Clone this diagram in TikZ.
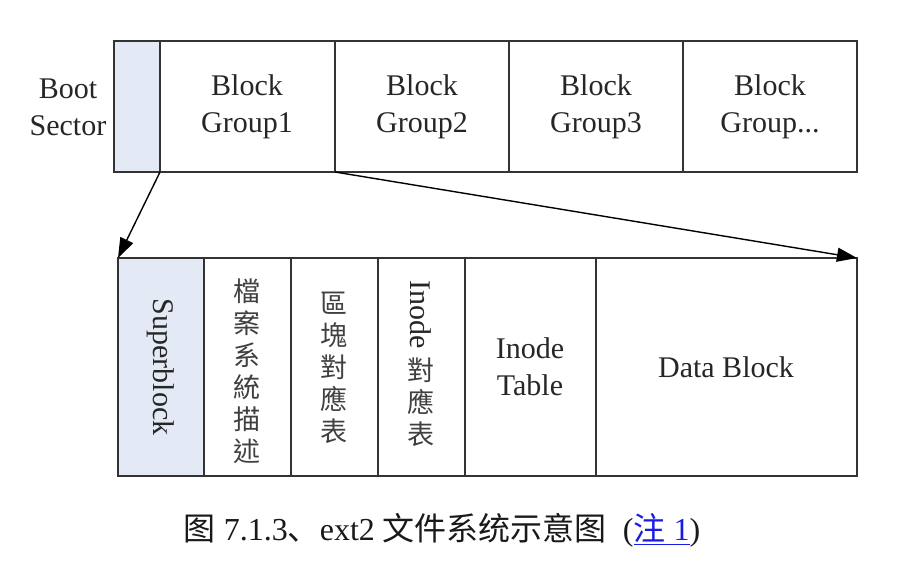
\documentclass[tikz,border=0pt]{standalone}
\usepackage{fontspec}
\setmainfont{Liberation Serif}
\newfontfamily\cjktc{Noto Sans CJK TC}
\newfontfamily\cjksc{Noto Sans CJK SC}
\usetikzlibrary{arrows.meta}
\definecolor{lightblue}{HTML}{E3EAF5}
\definecolor{linkblue}{HTML}{1A1AE6}
\begin{document}
\begin{tikzpicture}[x=1pt,y=-1pt,
  cell/.style={draw=black!80,line width=1.6pt},
  lbl/.style={font=\fontsize{30}{37}\selectfont,align=center,text=black!85,inner sep=0pt},
  vcjk/.style={font=\fontsize{27}{32}\selectfont\cjktc,align=center,text=black!75,inner sep=0pt},
  arr/.style={line width=1.4pt,-{Triangle[length=20pt,width=14pt]}}]
\useasboundingbox (0,0) rectangle (922,588);
% top row
\node[lbl,anchor=center] (boot) at (68,107) {Boot\\Sector};
\draw[cell,fill=lightblue] (114,41) rectangle (160,172);
\coordinate (bsA) at (160,172);
\draw[cell] (160,41) rectangle (335,172);
\draw[cell] (335,41) rectangle (509,172);
\draw[cell] (509,41) rectangle (683,172);
\draw[cell] (683,41) rectangle (857,172);
\coordinate (bg1R) at (335,172);
\node[lbl] (g1) at (247,107) {Block\\Group1};
\node[lbl] (g2) at (422,107) {Block\\Group2};
\node[lbl] (g3) at (596,107) {Block\\Group3};
\node[lbl] (g4) at (770,107) {Block\\Group...};
% bottom row
\draw[cell,fill=lightblue] (118,258) rectangle (204,476);
\draw[cell] (204,258) rectangle (291,476);
\draw[cell] (291,258) rectangle (378,476);
\draw[cell] (378,258) rectangle (465,476);
\draw[cell] (465,258) rectangle (596,476);
\draw[cell] (596,258) rectangle (857,476);
\coordinate (sbTL) at (118,258);
\coordinate (dbTR) at (857,258);
\node[lbl,rotate=-90] (sb) at (161,367) {Superblock};
\node[vcjk] (fsd) at (247,371) {檔\\案\\系\\統\\描\\述};
\node[vcjk] (bmap) at (334,368) {區\\塊\\對\\應\\表};
\node[lbl,rotate=-90] (inode) at (421,315) {Inode};
\node[vcjk] (imap) at (421,402) {對\\應\\表};
\node[lbl] (itab) at (530,367) {Inode\\Table};
\node[lbl] (data) at (726,367) {Data Block};
% arrows
\draw[arr] (bsA) -- (sbTL);
\draw[arr] (bg1R) -- (dbTR);
% caption
\node[inner sep=0pt,font=\fontsize{32}{36}\selectfont,text=black!90] (cap) at (442,530)
 {{\cjksc 图} 7.1.3{\cjksc 、}ext2 {\cjksc 文件系统示意图}\ \ (\textcolor{linkblue}{\underline{{\cjksc 注} 1}})};
\end{tikzpicture}
\end{document}
